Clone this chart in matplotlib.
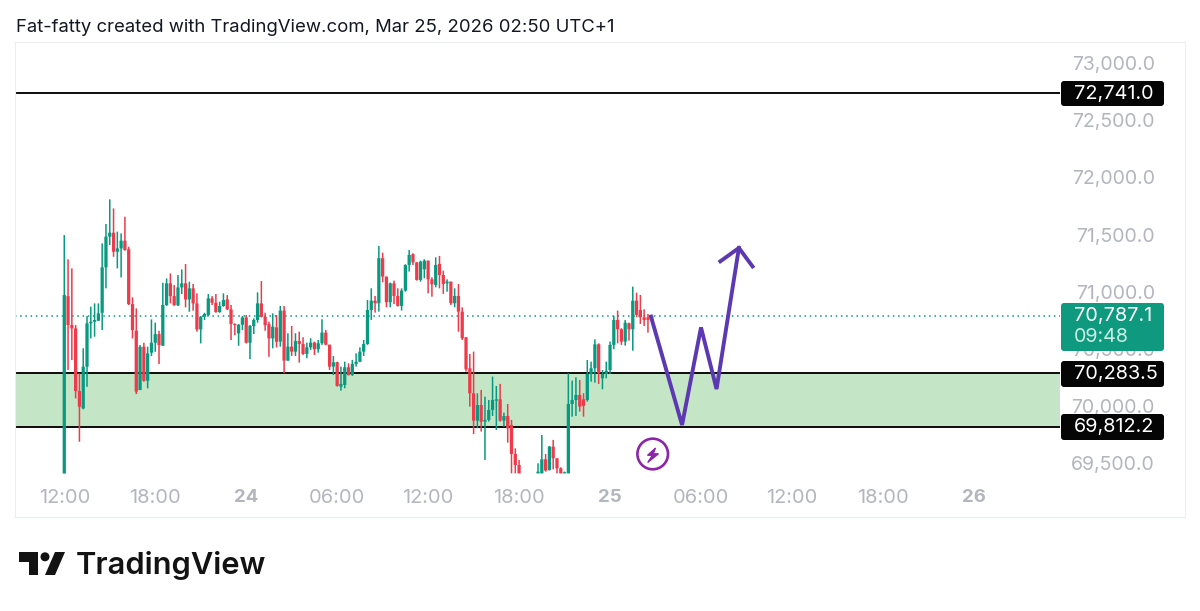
import matplotlib
matplotlib.use('Agg')
import matplotlib.pyplot as plt
from matplotlib.patches import Circle, FancyBboxPatch, Polygon, Rectangle
import numpy as np

plt.rcParams['font.family'] = ['Inter', 'DejaVu Sans']

nan = float('nan')

# 15 minute candles, the first one is 12:00 on the 23rd
opens = [69405, 70960, 70706, 70677, 70127, 69975, 70341, 70721, 70735, 70744,
         70814, 71212, 71481, 71516, 71349, 71378, 71446, 71370, 70890, 70656,
         70136, 70516, 70218, 70464, 70551, 70627, 70525, 70882, 71072, 70960,
         70879, 71036, 71072, 70931, 71028, 70896, 70668, 70779, 70794, 70940,
         70902, 70820, 70873, 70931, 70844, 70715, 70633, 70709, 70773, 70551,
         70697, 70750, 70896, 70779, 70715, 70589, 70686, 70561, 70833, 70394,
         70517, 70473, 70567, 70540, 70453, 70511, 70552, 70494, 70546, 70640,
         70534, 70342, 70380, 70166, 70181, 70336, 70268, 70365, 70385, 70473,
         70540, 70838, 70920, 70897, 71292, 71131, 70906, 71072, 70961, 70874,
         71008, 71233, 71327, 71256, 71102, 71195, 71271, 71107, 71058, 71242,
         71145, 71072, 71087, 70897, 70961, 70824, 70599, 70327, 70108, 69868,
         70005, 69859, 69874, 69962, 70043, 70055, 69868, 69909, 69830, 69576,
         69479, nan, nan, nan, nan, 69406, 69406, 69529, 69435, 69640,
         69538, 69450, 69406, 69406, 70014, 70049, 70093, 70055, 70049, 70277,
         70327, 70537, 70239, 70277, 70312, 70532, 70751, 70669, 70561, 70722,
         70669, 70920, 70838, 70774, 70774, 70745]
highs = [71495, 71282, 71203, 70706, 70282, 70502, 70785, 70867, 70896, 70896,
         71422, 71592, 71808, 71729, 71525, 71510, 71656, 71393, 70949, 70852,
         70531, 70551, 70516, 70756, 70727, 70656, 71077, 71115, 71159, 71057,
         71145, 71194, 71241, 71086, 71066, 70984, 70785, 70814, 70978, 70960,
         70978, 70911, 70984, 70969, 70882, 70721, 70715, 70785, 70794, 70706,
         70765, 70993, 71092, 70814, 70735, 70808, 70794, 70874, 70874, 70634,
         70698, 70634, 70648, 70599, 70552, 70590, 70561, 70575, 70757, 70663,
         70534, 70435, 70385, 70342, 70385, 70371, 70400, 70458, 70511, 70575,
         70926, 71028, 70961, 71400, 71341, 71131, 71078, 71096, 71028, 71028,
         71239, 71365, 71335, 71256, 71271, 71283, 71271, 71125, 71300, 71312,
         71183, 71107, 71087, 71028, 71066, 70862, 70599, 70453, 70473, 70108,
         70137, 70078, 70049, 70254, 70172, 70190, 69938, 70014, 69874, 69625,
         69523, nan, nan, nan, nan, 69494, 69742, 69576, 69646, 69699,
         69538, 69459, 69421, 70283, 70219, 70248, 70225, 70108, 70400, 70385,
         70581, 70546, 70312, 70385, 70561, 70786, 70833, 70678, 70751, 70727,
         71043, 70990, 70970, 70844, 70803, 70795]
lows = [69405, 70312, 70399, 70063, 69683, 69967, 70165, 70589, 70604, 70744,
        70662, 71028, 71408, 71305, 71203, 71124, 71358, 70882, 70589, 70101,
        70136, 70209, 70151, 70434, 70472, 70364, 70525, 70873, 70896, 70876,
        70873, 70978, 70861, 70823, 70832, 70648, 70545, 70750, 70785, 70882,
        70814, 70814, 70867, 70838, 70575, 70618, 70525, 70662, 70545, 70408,
        70627, 70727, 70773, 70656, 70428, 70502, 70510, 70517, 70283, 70394,
        70435, 70435, 70377, 70444, 70415, 70488, 70444, 70464, 70532, 70529,
        70312, 70268, 70166, 70131, 70152, 70263, 70260, 70342, 70380, 70435,
        70532, 70751, 70815, 70824, 71081, 70862, 70862, 70891, 70868, 70833,
        70999, 71175, 71233, 71096, 71087, 71116, 70985, 70955, 71037, 71028,
        70979, 70999, 70882, 70862, 70648, 70575, 70298, 69991, 69751, 69801,
        69772, 69523, 69859, 69909, 69786, 69859, 69815, 69675, 69406, 69406,
        69406, nan, nan, nan, nan, 69406, 69406, 69421, 69430, 69441,
        69406, 69406, 69406, 69406, 69903, 69909, 69947, 69903, 70035, 70210,
        70201, 70190, 70143, 70239, 70277, 70494, 70546, 70532, 70526, 70570,
        70482, 70774, 70716, 70698, 70640, 70736]
closes = [70969, 70706, 70677, 70127, 69990, 70341, 70721, 70735, 70750, 70808,
          71212, 71481, 71516, 71349, 71378, 71446, 71364, 70890, 70662, 70122,
          70516, 70218, 70458, 70551, 70627, 70531, 70882, 71072, 70960, 70879,
          71036, 71072, 70931, 71028, 70896, 70668, 70779, 70803, 70940, 70902,
          70820, 70873, 70925, 70844, 70715, 70706, 70709, 70773, 70551, 70700,
          70750, 70896, 70779, 70706, 70589, 70692, 70560, 70833, 70394, 70517,
          70473, 70567, 70540, 70453, 70511, 70552, 70494, 70546, 70640, 70534,
          70342, 70380, 70172, 70190, 70336, 70268, 70365, 70385, 70473, 70540,
          70838, 70920, 70897, 71292, 71131, 70906, 71072, 70961, 70874, 71008,
          71233, 71321, 71256, 71102, 71262, 71271, 71107, 71064, 71233, 71145,
          71066, 71087, 70897, 70961, 70824, 70590, 70318, 70108, 69868, 70005,
          69859, 69874, 69962, 70049, 70055, 69868, 69909, 69801, 69576, 69479,
          69406, nan, nan, nan, nan, 69421, 69529, 69430, 69640, 69538,
          69450, 69406, 69415, 70014, 70049, 70093, 69991, 69997, 70277, 70327,
          70537, 70283, 70277, 70306, 70532, 70751, 70669, 70561, 70727, 70669,
          70920, 70795, 70774, 70751, 70751, 70787]

# levels on the chart
top_level = 72741.0
zone_top = 70283.5
zone_bottom = 69812.2
last_price = 70787.1
countdown = '09:48'

price_ticks = [69500, 70000, 70500, 71000, 71500, 72000, 72500, 73000]
time_ticks = [0, 24, 48, 72, 96, 120, 144, 168, 192, 216, 240]
time_labels = ['12:00', '18:00', '24', '06:00', '12:00', '18:00', '25', '06:00', '12:00', '18:00', '26']
day_labels = ['24', '25', '26']

# hand drawn projection, in candles and price
path_x = [154.8, 163.0, 168.0, 172.1, 178.0]
path_y = [70780, 69830, 70685, 70145, 71382]
head_x = [173.1, 178.0, 181.6]
head_y = [71265, 71382, 71220]

GREEN = '#089981'
RED = '#ee3a4a'
TICK_GREY = '#b4b6be'
PURPLE = '#5c39b2'

fig = plt.figure(figsize=(12, 6.11), dpi=100)
W, H = 1200, 611

# pane is x 15-1185, y 42-517 in pixels
ax = fig.add_axes([15 / W, 1 - 517 / H, 1170 / W, 475 / H])
ax.set_xlim(-13.0, 295.7)
ax.set_ylim(69023, 73188)

line_end = (1060 - 64.3) / 3.79
ax.add_patch(Rectangle((-13.0, zone_bottom), line_end + 13.0, zone_top - zone_bottom,
                       facecolor='#c5e5c7', edgecolor='none', zorder=1))
ax.hlines([top_level, zone_top, zone_bottom], -13.0, line_end, color='#0b0b0b', lw=1.4, zorder=2)
ax.hlines(last_price, -13.0, line_end, color=GREEN, lw=1.1, linestyles=(0, (1, 2.4)), zorder=2)

o = np.array(opens)
h = np.array(highs)
l = np.array(lows)
c = np.array(closes)
x = np.arange(len(o))
up = c >= o
colors = np.where(up, GREEN, RED)
wicks = ax.vlines(x, l, h, colors=colors, lw=1.1, zorder=3)
wicks.set_snap(False)
bodies = ax.bar(x, np.abs(c - o), bottom=np.minimum(o, c), width=0.86, color=colors, zorder=4)
for body in bodies:
    body.set_snap(False)

ax.plot(path_x, path_y, color=PURPLE, lw=2.8, solid_joinstyle='miter', zorder=5)
ax.plot(head_x, head_y, color=PURPLE, lw=2.8, solid_joinstyle='miter', zorder=5)

for side in ax.spines:
    ax.spines[side].set_color('#eceef0')
    ax.spines[side].set_linewidth(0.8)

ax.yaxis.tick_right()
ax.set_yticks(price_ticks)
ax.set_yticklabels([f'{p:,.1f}' for p in price_ticks], ha='right', fontsize=14, color=TICK_GREY)
ax.tick_params(axis='y', length=0, pad=-21.6)

ax.set_xticks(time_ticks)
ax.set_xticklabels(time_labels, fontsize=14.4, color=TICK_GREY)
ax.tick_params(axis='x', length=0, pad=-20)
for lab in ax.get_xticklabels():
    if lab.get_text() in day_labels:
        lab.set_fontweight('bold')
        lab.set_fontsize(13.4)

# overlay in pixels for the price tags, icon and logo
over = fig.add_axes([0, 0, 1, 1], facecolor='none')
over.set_xlim(0, W)
over.set_ylim(H, 0)
over.axis('off')

def price_tag(y0, y1, color):
    over.add_patch(FancyBboxPatch((1063, y0 + 2), 99, y1 - y0 - 4, boxstyle='round,pad=2,rounding_size=3',
                                  facecolor=color, edgecolor='none', zorder=6))

price_tag(81, 106, '#050505')
over.text(1074, 94, f'{top_level:,.1f}', color='white', fontsize=14.3, va='center', zorder=7)
price_tag(303, 351, '#0f9a80')
over.text(1074, 316, f'{last_price:,.1f}', color='white', fontsize=14.3, va='center', zorder=7)
over.text(1074, 337, countdown, color='#c9efe4', fontsize=14.2, va='center', zorder=7)
price_tag(361, 387, '#050505')
over.text(1074, 374, f'{zone_top:,.1f}', color='white', fontsize=14.3, va='center', zorder=7)
price_tag(414, 440, '#050505')
over.text(1074, 427, f'{zone_bottom:,.1f}', color='white', fontsize=14.3, va='center', zorder=7)

over.add_patch(Circle((652.7, 454), 15.3, facecolor='none', edgecolor='#8e24aa', lw=1.9))
over.add_patch(Polygon([(655.5, 448), (647.5, 455.3), (652.3, 455.3), (647.7, 462.5),
                        (658.5, 453.8), (653.3, 453.8)], facecolor='#8e24aa', edgecolor='#8e24aa', lw=0.9))

# logo
over.add_patch(Polygon([(19, 552), (38, 552), (38, 575), (28.5, 575), (28.5, 561.7), (19, 561.7)],
                       facecolor='#131313', edgecolor='none'))
over.add_patch(Circle((45, 556.8), 4.5, facecolor='#131313', edgecolor='none'))
over.add_patch(Polygon([(55, 552), (65, 552), (55, 575), (45, 575)], facecolor='#131313', edgecolor='none'))
over.text(76, 565, 'TradingView', color='#131313', fontsize=22.2, fontweight='semibold', va='center')

over.text(16, 28, 'Fat-fatty created with TradingView.com, Mar 25, 2026 02:50 UTC+1',
          color='#131722', fontsize=13.32, va='center')

plt.savefig('out.png', dpi=100)
plt.close()
